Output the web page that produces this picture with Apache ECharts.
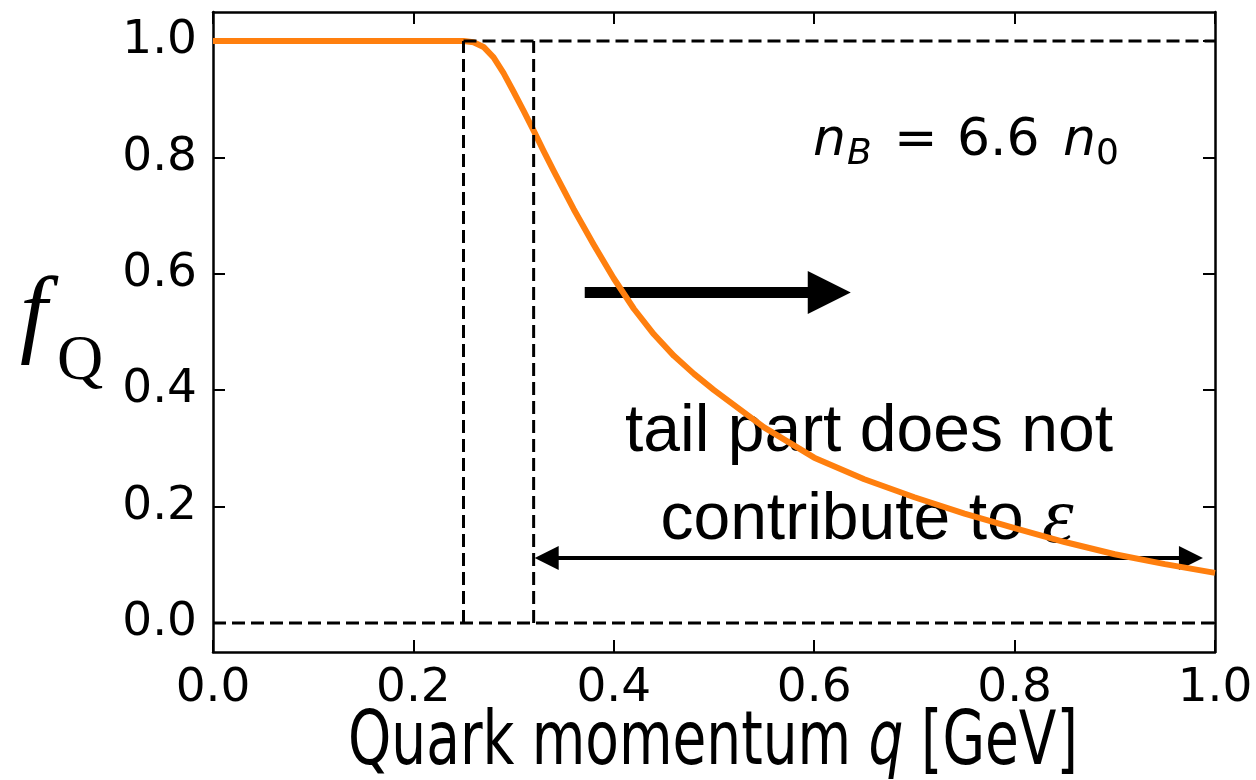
<!DOCTYPE html>
<html>
<head>
<meta charset="utf-8">
<script src="https://cdn.jsdelivr.net/npm/echarts@6/dist/echarts.min.js"></script>
<style>
html,body{margin:0;padding:0;background:#fff;}
#chart{width:1256px;height:780px;}
</style>
</head>
<body>
<div id="chart"></div>
<script>
// ---- data ----
const xTicks = [0.0, 0.2, 0.4, 0.6, 0.8, 1.0];
const yTicks = [0.0, 0.2, 0.4, 0.6, 0.8, 1.0];
const qValues = [0.00, 0.10, 0.20, 0.25, 0.26, 0.27, 0.28, 0.29, 0.30, 0.31, 0.32, 0.33, 0.34, 0.36, 0.38, 0.40, 0.42, 0.44, 0.46, 0.48, 0.50, 0.55, 0.60, 0.65, 0.70, 0.75, 0.80, 0.85, 0.90, 0.95, 1.00];
const fValues = [1.000, 1.000, 1.000, 1.000, 0.998, 0.990, 0.972, 0.945, 0.913, 0.880, 0.846, 0.811, 0.777, 0.711, 0.650, 0.592, 0.540, 0.496, 0.459, 0.428, 0.400, 0.336, 0.284, 0.247, 0.216, 0.188, 0.163, 0.139, 0.118, 0.101, 0.086];
// dashed guide lines: [[x0,y0],[x1,y1]]
const guideLines = [
  [[0.25, 1.0], [1.0, 1.0]],
  [[0.0, 0.0], [1.0, 0.0]],
  [[0.25, 0.0], [0.25, 1.0]],
  [[0.32, 0.0], [0.32, 1.0]]
];
// arrows: start / end in data coords
const bigArrow = [[0.371, 0.568], [0.615, 0.568]];
const tailArrow = [[0.333, 0.1115], [0.976, 0.1115]];

const chart = echarts.init(document.getElementById('chart'), null, {renderer: 'canvas'});

const tickFont = {fontSize: 47, fontFamily: 'DejaVu Sans', color: '#000'};
function xAx(pos, showLabel) {
  return {
    type: 'value', min: 0, max: 1, interval: 0.2, position: pos,
    axisLine: {show: true, onZero: false, lineStyle: {color: '#000', width: 2.5}},
    axisTick: {show: true, inside: true, length: 12, lineStyle: {color: '#000', width: 2}},
    axisLabel: Object.assign({show: showLabel, margin: 13, showMinLabel: true, showMaxLabel: true,
      formatter: v => v.toFixed(1)}, tickFont),
    splitLine: {show: false}
  };
}
function yAx(pos, showLabel) {
  return {
    type: 'value', min: -0.05, max: 1.05, position: pos,
    axisLine: {show: true, onZero: false, lineStyle: {color: '#000', width: 2.5}},
    axisTick: {show: true, inside: true, length: 12, customValues: yTicks, lineStyle: {color: '#000', width: 2}},
    axisLabel: Object.assign({show: showLabel, margin: 16, customValues: yTicks,
      formatter: v => (+v).toFixed(1)}, tickFont),
    splitLine: {show: false}
  };
}

const series = [];
guideLines.forEach(seg => {
  series.push({
    type: 'line', data: seg, showSymbol: false, symbol: 'none', silent: true, z: 6,
    lineStyle: {color: '#000', width: 3, type: [13, 6]}
  });
});
series.push({
  type: 'line',
  data: qValues.map((q, i) => [q, fValues[i]]),
  showSymbol: false, symbol: 'none', smooth: false, z: 5,
  lineStyle: {color: '#ff7f0e', width: 6, join: 'round'}
});
series.push({
  type: 'line', data: [], z: 4,
  markLine: {
    silent: true, animation: false,
    symbol: ['none', 'triangle'], symbolSize: 43,
    label: {show: false},
    lineStyle: {color: '#000', width: 11, type: 'solid'},
    emphasis: {disabled: true},
    data: [[{coord: bigArrow[0]}, {coord: bigArrow[1]}]]
  }
});
series.push({
  type: 'line', data: [], z: 4,
  markLine: {
    silent: true, animation: false,
    symbol: ['triangle', 'triangle'], symbolSize: 24,
    label: {show: false},
    lineStyle: {color: '#000', width: 4, type: 'solid'},
    emphasis: {disabled: true},
    data: [[{coord: tailArrow[0]}, {coord: tailArrow[1]}]]
  }
});

const option = {
  animation: false,
  backgroundColor: '#fff',
  grid: {left: 213, right: 41, top: 12, bottom: 128, containLabel: false},
  xAxis: [xAx('bottom', true), xAx('top', false)],
  yAxis: [yAx('left', true), yAx('right', false)],
  series: series,
  graphic: [
    // y-axis label f_Q
    {type: 'text', x: 20, y: 318, z: 1, style: {text: 'f', font: 'italic 98px "Liberation Serif"', fill: '#000', verticalAlign: 'middle'}},
    {type: 'text', x: 57, y: 362, z: 1, style: {text: 'Q', font: '64px "Liberation Serif"', fill: '#000', verticalAlign: 'middle'}},
    // x-axis label
    {type: 'text', x: 713, y: 745, scaleX: 0.733, z: 1, style: {
      text: '{a|Quark momentum }{q|q}{a| [GeV]}', align: 'center', verticalAlign: 'middle',
      rich: {a: {fontSize: 75, fontFamily: 'DejaVu Sans', color: '#000'},
             q: {fontSize: 75, fontFamily: 'DejaVu Sans', fontStyle: 'italic', color: '#000'}}}},
    // n_B = 6.6 n_0
    {type: 'text', x: 813, y: 141, z: 1, style: {text: 'n', font: 'italic 52px "DejaVu Sans"', fill: '#000', verticalAlign: 'middle'}},
    {type: 'text', x: 847, y: 155, z: 1, style: {text: 'B', font: 'italic 36px "DejaVu Sans"', fill: '#000', verticalAlign: 'middle'}},
    {type: 'text', x: 894, y: 141, z: 1, style: {text: '=', font: '52px "DejaVu Sans"', fill: '#000', verticalAlign: 'middle'}},
    {type: 'text', x: 957, y: 141, z: 1, style: {text: '6.6', font: '52px "DejaVu Sans"', fill: '#000', verticalAlign: 'middle'}},
    {type: 'text', x: 1063, y: 141, z: 1, style: {text: 'n', font: 'italic 52px "DejaVu Sans"', fill: '#000', verticalAlign: 'middle'}},
    {type: 'text', x: 1096, y: 155, z: 1, style: {text: '0', font: '36px "DejaVu Sans"', fill: '#000', verticalAlign: 'middle'}},
    // annotation
    {type: 'text', x: 869, y: 433, z: 1, style: {text: 'tail part does not', font: '66px "Liberation Sans"', fill: '#000', align: 'center', verticalAlign: 'middle'}},
    {type: 'text', x: 867, y: 521, z: 1, style: {
      text: '{a|contribute to }{e|ε}', align: 'center', verticalAlign: 'middle',
      rich: {a: {fontSize: 66, fontFamily: 'Liberation Sans', color: '#000'},
             e: {fontSize: 80, fontFamily: 'Liberation Serif', fontStyle: 'italic', color: '#000'}}}}
  ]
};
chart.setOption(option);
</script>
</body>
</html>
